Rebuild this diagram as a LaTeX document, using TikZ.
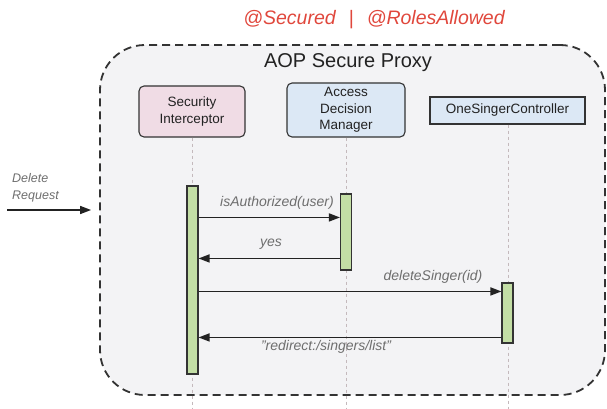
\documentclass[tikz,border=0pt]{standalone}
\usepackage{fontspec}
\setmainfont{Liberation Sans}
\usetikzlibrary{arrows.meta}
\definecolor{titlered}{HTML}{E0473C}
\definecolor{proxybg}{HTML}{F3F3F5}
\definecolor{edgegray}{HTML}{333333}
\definecolor{pinkfill}{HTML}{F0DCE5}
\definecolor{bluefill}{HTML}{DCE8F5}
\definecolor{barfill}{HTML}{C3DEA5}
\definecolor{labelgray}{HTML}{6E6E6E}
\definecolor{lifegray}{HTML}{C4B9BC}
\definecolor{textdark}{HTML}{222222}
\begin{document}
\begin{tikzpicture}[x=1pt,y=-1pt,
  proxybox/.style={draw=edgegray, line width=1.8pt, dash pattern=on 8pt off 5pt,
    fill=proxybg, rounded corners=45pt, inner sep=0pt},
  rolebox/.style={draw=edgegray, line width=1.1pt, inner sep=0pt, align=center,
    text=textdark, font=\fontsize{13.5}{16.5}\selectfont},
  pinkbox/.style={rolebox, fill=pinkfill, rounded corners=5pt},
  bluebox/.style={rolebox, fill=bluefill, rounded corners=5pt},
  plainblue/.style={rolebox, fill=bluefill},
  lifeline/.style={draw=lifegray, line width=0.9pt, dash pattern=on 3pt off 3pt},
  actbar/.style={draw=edgegray, line width=1.1pt, fill=barfill, inner sep=0pt, minimum width=11pt},
  msg/.style={draw=textdark, line width=1.5pt, -{Triangle[length=11pt,width=8pt]}},
  msglabel/.style={text=labelgray, font=\fontsize{14}{16}\itshape, inner sep=0pt},
]
\useasboundingbox (0,0) rectangle (607,409);

% title
\node[text=titlered, font=\fontsize{19.5}{22}\itshape] (annot) at (374,20)
  {@Secured\hspace{13pt}|\hspace{13pt}@RolesAllowed};

% proxy box
\node[proxybox, minimum width=505pt, minimum height=350pt] (proxy) at (352.5,220) {};
\node[text=textdark, font=\fontsize{20}{22}\selectfont, anchor=base] (proxytitle) at (348,68) {AOP Secure Proxy};

% participants
\node[pinkbox, minimum width=106pt, minimum height=51pt] (si) at (192,111.5) {Security\\Interceptor};
\node[bluebox, minimum width=118pt, minimum height=54pt] (adm) at (346,110) {Access\\Decision\\Manager};
\node[plainblue, minimum width=155pt, minimum height=27pt] (osc) at (507.5,110.5) {OneSingerController};

% lifelines
\coordinate (floor) at (0,409);
\draw[lifeline] (si.south) -- (si.south |- floor);
\draw[lifeline] (adm.south) -- (adm.south |- floor);
\draw[lifeline] ([xshift=0.5pt]osc.south) -- ([xshift=0.5pt]osc.south |- floor);

% activation bars
\node[actbar, minimum height=188pt] (sibar) at (192.5,280) {};
\node[actbar, minimum height=76pt] (admbar) at (346,232) {};
\node[actbar, minimum height=60pt] (oscbar) at (507.5,313) {};

% messages
\draw[msg] ([yshift=-32pt]sibar.north east) -- ([yshift=-24pt]admbar.north west);
\node[msglabel] (l1) at (277,203) {isAuthorized(user)};
\draw[msg] ([yshift=-65pt]admbar.north west) -- ([yshift=-73pt]sibar.north east);
\node[msglabel] (l2) at (271,244) {yes};
\draw[msg] ([yshift=-106pt]sibar.north east) -- ([yshift=-9pt]oscbar.north west);
\node[msglabel] (l3) at (433,277) {deleteSinger(id)};
\draw[msg] ([yshift=-55pt]oscbar.north west) -- ([yshift=-152pt]sibar.north east);
\node[msglabel] (l4) at (326,347) {"redirect:/singers/list"};

% incoming request
\coordinate (reqstart) at (7,210);
\draw[msg] (reqstart) -- ([xshift=-8pt]reqstart -| proxy.west);
\node[msglabel, font=\fontsize{12.5}{17}\itshape, align=left, anchor=west] (req) at (12,187.5) {Delete\\Request};
\end{tikzpicture}
\end{document}
